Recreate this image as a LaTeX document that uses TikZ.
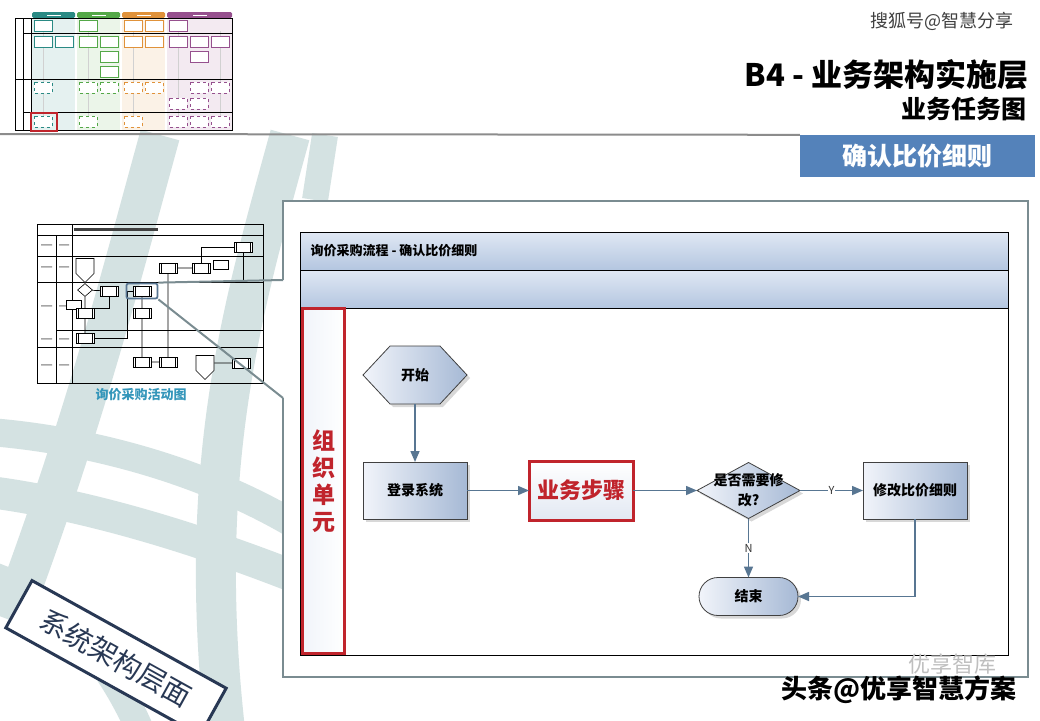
\documentclass[tikz,border=0pt]{standalone}
\usepackage{fontspec}
\setmainfont{Noto Sans CJK SC}
\usepackage{tikz}
\usetikzlibrary{
  positioning,
  arrows.meta,
  calc,
  shapes.geometric,
  shapes.misc,
  shapes.symbols,
  shadows
}
\definecolor{FrameGrey}{RGB}{122,140,145}
\definecolor{BandTeal}{RGB}{212,226,226}
\definecolor{SteelArrow}{RGB}{88,118,146}
\definecolor{NodeLight}{RGB}{241,244,250}
\definecolor{NodeDark}{RGB}{166,185,213}
\definecolor{HeadLight}{RGB}{224,232,244}
\definecolor{HeadDark}{RGB}{180,198,224}
\definecolor{LaneRed}{RGB}{192,36,44}
\definecolor{TopicBlue}{RGB}{84,130,186}
\definecolor{CaptionBlue}{RGB}{52,150,186}
\definecolor{BoxNavy}{RGB}{40,56,84}
\definecolor{ThumbTeal}{RGB}{42,138,132}
\definecolor{ThumbGreen}{RGB}{84,168,72}
\definecolor{ThumbOrange}{RGB}{224,146,58}
\definecolor{ThumbPurple}{RGB}{150,80,142}

\begin{document}
\begin{tikzpicture}[
  x=1pt, y=-1pt,
  >=Stealth,
  band/.style={BandTeal, line width=40pt},
  callout/.style={FrameGrey, line width=2pt},
  proc/.style={
    draw=black!75, line width=0.8pt,
    minimum width=104pt, minimum height=57pt,
    inner sep=2pt, outer sep=0pt,
    left color=NodeLight, right color=NodeDark,
    drop shadow={opacity=0.3, shadow xshift=3pt, shadow yshift=-3pt},
    font=\bfseries\fontsize{14}{17}\selectfont,
  },
  startnode/.style={proc, shape=signal, signal to=east and west,
    signal pointer angle=94, minimum height=58pt},
  endnode/.style={proc, rounded rectangle, minimum width=103pt, minimum height=38pt},
  decide/.style={proc, diamond, aspect=1.84, minimum width=103pt,
    minimum height=56pt, inner sep=0pt},
  diamondtext/.style={align=center, font=\bfseries\fontsize{14}{20}\selectfont},
  stepbox/.style={
    draw=LaneRed, line width=3pt,
    minimum width=104pt, minimum height=59pt, outer sep=0pt,
    top color=white, bottom color=NodeLight!80!NodeDark,
    text=LaneRed, font=\bfseries\fontsize{22}{24}\selectfont,
  },
  lane/.style={
    draw=LaneRed, line width=3pt,
    minimum width=42pt, minimum height=345pt,
    left color=NodeLight, right color=white,
    text=LaneRed, align=center,
    font=\bfseries\fontsize{23}{27}\selectfont,
  },
  arr/.style={-{Triangle[length=11pt,width=9pt]}, line width=1.5pt, SteelArrow},
  yn/.style={fill=white, inner sep=1pt, text=black!80, font=\fontsize{11}{12}\selectfont},
  doc/.style={draw=#1, fill=white, line width=0.6pt},
  minibox/.style={
    draw, fill=white, line width=0.7pt,
    minimum width=18pt, minimum height=10pt, inner sep=0pt, outer sep=0pt,
    path picture={
      \draw[line width=0.5pt]
        ([xshift=2pt]path picture bounding box.north west) -- ([xshift=2pt]path picture bounding box.south west)
        ([xshift=-2pt]path picture bounding box.north east) -- ([xshift=-2pt]path picture bounding box.south east);
    },
  },
  minidoc/.style={draw, fill=white, line width=0.6pt, minimum width=15pt,
    minimum height=9pt, inner sep=0pt},
  minidecide/.style={draw, fill=white, diamond, line width=0.6pt,
    minimum width=15pt, minimum height=13pt, inner sep=0pt},
  minipent/.style={draw, fill=white, shape=signal, signal to=south,
    line width=0.6pt, minimum width=18pt, minimum height=15pt, inner sep=0pt},
  miniline/.style={line width=0.7pt},
]
  \useasboundingbox (0,0) rectangle (1040,720);
  \fill[white] (0,0) rectangle (1040,720);

  \draw[band] (160,135) .. controls (120,280) and (85,420) .. (10,620);
  \draw[band] (290,135) .. controls (245,300) and (195,460) .. (225,730);
  \draw[band, line width=26pt] (325,135) -- (315,200);
  \draw[band, line width=28pt] (-10,432) .. controls (90,440) and (200,470) .. (290,522);
  \draw[band, line width=32pt] (-10,492) .. controls (90,505) and (200,540) .. (290,575);
  \draw[band, line width=28pt] (-10,575) .. controls (50,595) and (105,650) .. (140,730);

  \foreach \cx/\cw/\cc in {32/43/ThumbTeal, 77/43/ThumbGreen, 122/43/ThumbOrange, 167/65/ThumbPurple} {
    \fill[\cc!12] (\cx,18) rectangle ++(\cw,112);
    \fill[\cc, rounded corners=1.5pt] (\cx,12) rectangle ++(\cw,6);
    \fill[white] (\cx+\cw/2-7,14.5) rectangle ++(14,1.2);
  }
  \foreach \lx in {43,88,133,178,220}
    \draw[black!18, line width=1pt] (\lx,31) -- (\lx,116);
  \draw[black, line width=1pt] (15,18) rectangle (232,130);
  \draw[black, line width=0.8pt] (23,18) -- (23,130) (31,18) -- (31,130);
  \draw[black, line width=0.8pt] (23,33) -- (232,33) (15,79) -- (232,79) (23,112) -- (232,112);
  \foreach \dx/\dy/\dc in {34/20/ThumbTeal, 79/20/ThumbGreen, 124/20/ThumbOrange, 145/20/ThumbOrange, 169/20/ThumbPurple,
      34/36/ThumbTeal, 55/36/ThumbTeal, 79/36/ThumbGreen, 100/36/ThumbGreen, 124/36/ThumbOrange, 145/36/ThumbOrange,
      169/36/ThumbPurple, 190/36/ThumbPurple, 211/36/ThumbPurple,
      100/51/ThumbGreen, 190/51/ThumbPurple, 100/66/ThumbGreen}
    \draw[doc=\dc] (\dx,\dy) rectangle ++(18,11);
  \foreach \dx/\dy/\dc in {34/82/ThumbTeal, 79/82/ThumbGreen, 100/82/ThumbGreen, 124/82/ThumbOrange, 145/82/ThumbOrange,
      190/82/ThumbPurple, 211/82/ThumbPurple, 169/98/ThumbPurple, 190/98/ThumbPurple,
      34/116/ThumbTeal, 79/116/ThumbGreen, 124/116/ThumbOrange, 169/116/ThumbPurple, 190/116/ThumbPurple, 211/116/ThumbPurple}
    \draw[doc=\dc, dashed] (\dx,\dy) rectangle ++(18,11);
  \draw[LaneRed, line width=2.5pt] (31,113) rectangle (57,131);

  \node[anchor=east, text=black!75, font=\fontsize{18}{20}\selectfont] (sohu) at (1017,21) {搜狐号@智慧分享};
  \node[anchor=east, font=\bfseries\fontsize{31}{34}\selectfont] (title) at (1032,75) {B4 - 业务架构实施层};
  \node[anchor=east, font=\bfseries\fontsize{25}{28}\selectfont] (subtitle) at (1030,109) {业务任务图};
  \node[fill=TopicBlue, text=white, minimum width=235pt, minimum height=42pt,
    font=\bfseries\fontsize{25}{28}\selectfont] (topic) at (917.5,156) {确认比价细则};
  \draw[black!45, line width=2pt] (0,134) -- (topic.north west);

  \draw[line width=0.8pt] (37,224) rectangle (263,383);
  \draw[line width=0.6pt] (37,235) -- (263,235) (37,256) -- (263,256) (37,347) -- (263,347);
  \draw[line width=1pt] (37,282) -- (263,282);
  \draw[line width=0.6pt] (56,330) -- (263,330);
  \draw[line width=0.6pt] (56,235) -- (56,383) (72,224) -- (72,383);
  \fill[black!75] (74,227.5) rectangle (158,231);
  \foreach \ty in {244,266,305,338,364}
    \fill[black!35] (41,\ty) rectangle ++(11,1.5) (59,\ty) rectangle ++(10,1.5);

  \node[minibox] (m1) at (243,247) {};
  \node[minibox] (m2) at (168,268) {};
  \node[minibox] (m3) at (201,268) {};
  \node[minidoc] (m4) at (221,265) {};
  \node[minipent] (m16) at (85,266) {};
  \node[minidecide] (m5) at (85,290) {};
  \node[minibox] (m6) at (109,291) {};
  \node[minibox] (m7) at (142,291) {};
  \node[minibox] (m8) at (142,313) {};
  \node[minidoc] (m10) at (74,305) {};
  \node[minibox] (m9) at (85,313) {};
  \node[minibox] (m11) at (85,338) {};
  \node[minibox] (m12) at (142,362) {};
  \node[minibox] (m13) at (168,362) {};
  \node[minipent] (m14) at (205,363) {};
  \node[minibox] (m15) at (241,363) {};
  \draw[miniline] (m16) -- (m5) (m5) -- (m6) (m5) -- (m9) (m9) -- (m11)
    (m7) -- (m8) (m8) -- (m12) (m12) -- (m13) (m2) -- (m13) (m2) -- (m3)
    (m14) -- (m15);
  \draw[miniline] (m6.south) |- (m9.north -| m5.south);
  \draw[miniline] (m11.east) -| ($(m7.west)+(-6,0)$) -- (m7.west);
  \draw[miniline] (m3.north) |- (m1.west);
  \draw[miniline] (m1.south) -- (m1.south |- 0,282);
  \node[draw=SteelArrow, line width=1.8pt, rounded corners=2pt, minimum width=31pt,
    minimum height=15pt, inner sep=0pt] (zoomsrc) at (m7) {};
  \node[text=CaptionBlue, font=\bfseries\fontsize{13}{15}\selectfont] (caption) at (141,395) {询价采购活动图};

  \coordinate (gaptop) at (283,280);
  \coordinate (gapbot) at (283,398);
  \fill[white] (283,201) rectangle (1028,677);
  \draw[callout] (gaptop) -- (283,201) -- (1028,201) -- (1028,677) -- (283,677) -- (gapbot);
  \draw[callout] (zoomsrc.north east) -- (gaptop);
  \draw[callout] (zoomsrc.south east) -- (gapbot);

  \shade[top color=HeadLight, bottom color=HeadDark] (300,232) rectangle (1008,270);
  \shade[top color=HeadLight, bottom color=HeadDark] (300,270) rectangle (1008,308);
  \draw[line width=0.8pt] (300,232) rectangle (1008,655) (300,270) -- (1008,270) (300,308) -- (1008,308);
  \node[anchor=west, font=\bfseries\fontsize{13}{15}\selectfont] (flowtitle) at (307,251) {询价采购流程 - 确认比价细则};
  \node[lane] (org) at (323.5,481) {组\\织\\单\\元};

  \node[startnode] (start) at (415,375) {开始};
  \node[proc, below=58pt of start] (login) {登录系统};
  \node[stepbox, right=62pt of login] (step) {业务步骤};
  \node[decide, right=64pt of step, label={[diamondtext]center:是否需要修\\改?}] (check) {};
  \node[proc, right=63pt of check] (fix) {修改比价细则};
  \node[endnode, below=59pt of check] (end) {结束};

  \draw[arr] (start) -- (login);
  \draw[arr] (login) -- (step);
  \draw[arr] (step) -- (check);
  \draw[arr] (check) -- (fix) node[midway, yn] {Y};
  \draw[arr] (check) -- (end) node[midway, yn] {N};
  \draw[arr] (fix.south) |- (end.east);

  \node[draw=BoxNavy, line width=3pt, fill=white, rotate=-29, minimum width=222pt,
    minimum height=54pt, text=BoxNavy, font=\fontsize{28}{30}\selectfont] (layer) at (116,658) {系统架构层面};

  \node[anchor=west, text=black!25, font=\fontsize{22}{24}\selectfont] (kuwm) at (905,664) {优享智库};
  \node[anchor=west, font=\bfseries\fontsize{26}{28}\selectfont] (toutiao) at (778,690) {头条@优享智慧方案};
\end{tikzpicture}
\end{document}
